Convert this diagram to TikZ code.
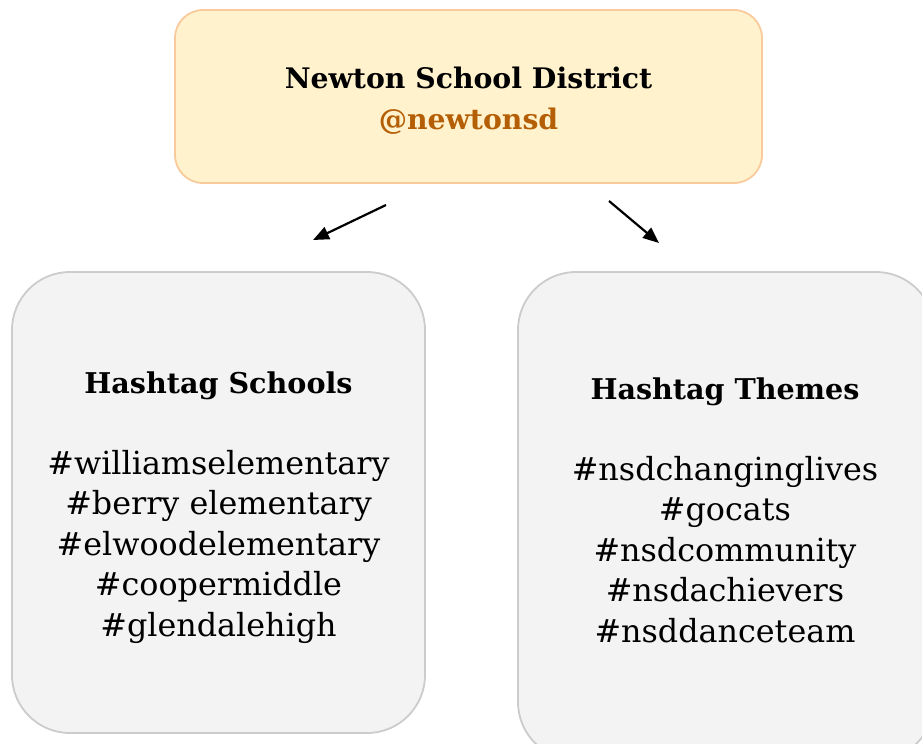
\documentclass[tikz,border=0pt]{standalone}
\usepackage{fontspec}
\setmainfont{DejaVu Serif}
\usetikzlibrary{arrows.meta}
\definecolor{topfill}{HTML}{FFF2CC}
\definecolor{topdraw}{HTML}{F9CB9C}
\definecolor{handle}{HTML}{B45F06}
\definecolor{grayfill}{HTML}{F3F3F3}
\definecolor{graydraw}{HTML}{CCCCCC}
\tikzset{
  topbox/.style={draw=topdraw, fill=topfill, line width=1.8pt, rounded corners=28pt},
  graybox/.style={draw=graydraw, fill=grayfill, line width=1.8pt, rounded corners=58pt},
  heading/.style={font=\fontsize{28.6}{34}\selectfont\bfseries, inner sep=0pt, anchor=base},
  titletext/.style={font=\fontsize{28.3}{34}\selectfont\bfseries, inner sep=0pt, anchor=base},
  listtext/.style={font=\fontsize{31.8}{40.5}\selectfont, inner sep=0pt, anchor=base},
  arr/.style={line width=2.2pt, -{Triangle[length=16pt,width=13pt]}}
}
\begin{document}
\begin{tikzpicture}[x=1pt,y=-1pt]
\useasboundingbox (0,0) rectangle (922,744);
\clip (0,0) rectangle (922,744);
\fill[white] (0,0) rectangle (922,744);
% boxes
\path[topbox] (175,10) rectangle (762,183);
\node[inner sep=0pt] (top) at (468.5,96.5) {};
\path[graybox] (12,272) rectangle (425,733);
\node[inner sep=0pt] (left) at (218.5,502.5) {};
\path[graybox] (518,272) rectangle (934,760);
\node[inner sep=0pt] (right) at (726,516) {};
% top text
\node[titletext] (title) at (468.5,88) {Newton School District};
\node[titletext, text=handle] (handle) at (468.5,129) {@newtonsd};
% left text
\node[heading] (lhead) at (218.5,393) {Hashtag Schools};
\node[listtext] (l1) at (218.5,474) {\#williamselementary};
\node[listtext] (l2) at (218.5,514.5) {\#berry elementary};
\node[listtext] (l3) at (218.5,555) {\#elwoodelementary};
\node[listtext] (l4) at (218.5,595.5) {\#coopermiddle};
\node[listtext] (l5) at (218.5,636) {\#glendalehigh};
% right text
\node[heading] (rhead) at (725,399) {Hashtag Themes};
\node[listtext] (r1) at (725,480) {\#nsdchanginglives};
\node[listtext] (r2) at (725,520.5) {\#gocats};
\node[listtext] (r3) at (725,561) {\#nsdcommunity};
\node[listtext] (r4) at (725,601.5) {\#nsdachievers};
\node[listtext] (r5) at (725,642) {\#nsddanceteam};
% arrows
\coordinate (a1s) at (386,205);
\coordinate (a1e) at (313,240);
\coordinate (a2s) at (609,201);
\coordinate (a2e) at (659,243);
\draw[arr] (a1s) -- (a1e);
\draw[arr] (a2s) -- (a2e);
\end{tikzpicture}
\end{document}
